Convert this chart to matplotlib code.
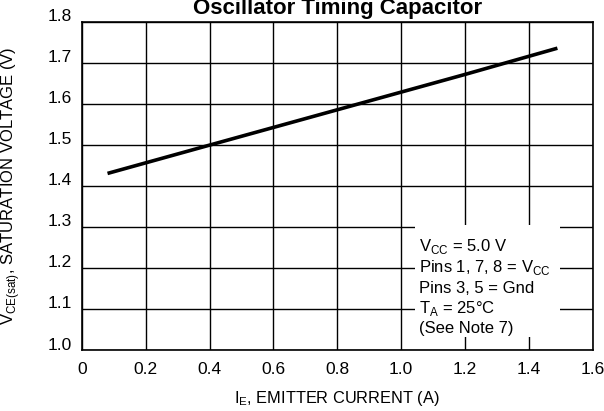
import matplotlib
matplotlib.use("Agg")
import matplotlib.pyplot as plt
import matplotlib.patches as patches
import matplotlib.transforms as mtransforms

plt.rcParams['font.family'] = ['Liberation Sans', 'DejaVu Sans']
plt.rcParams['mathtext.fontset'] = 'custom'
plt.rcParams['mathtext.rm'] = 'Liberation Sans'

# curve
current = [0.08, 0.4, 0.8, 1.0, 1.2, 1.49]
vsat = [1.43, 1.499, 1.585, 1.628, 1.671, 1.735]

x_ticks = [0, 0.2, 0.4, 0.6, 0.8, 1.0, 1.2, 1.4, 1.6]
x_labels = ['0', '0.2', '0.4', '0.6', '0.8', '1.0', '1.2', '1.4', '1.6']
y_ticks = [1.0, 1.1, 1.2, 1.3, 1.4, 1.5, 1.6, 1.7, 1.8]
y_labels = ['1.0', '1.1', '1.2', '1.3', '1.4', '1.5', '1.6', '1.7', '1.8']

note_lines = [
    r'V$_{\mathregular{CC}}$ = 5.0 V',
    r'Pins 1, 7, 8 = V$_{\mathregular{CC}}$',
    'Pins 3, 5 = Gnd',
    r'T$_{\mathregular{A}}$ = 25°C',
    '(See Note 7)',
]
note_y = [1.241, 1.190, 1.139, 1.090, 1.041]

W, H = 604, 411
fig = plt.figure(figsize=(W / 100, H / 100), dpi=100)
fig.subplots_adjust(left=82 / W, right=592.5 / W, top=1 - 21.5 / H, bottom=1 - 350 / H)
ax = fig.add_subplot(111)

ax.set_xlim(0, 1.6)
ax.set_ylim(1.0, 1.8)
ax.set_xticks(x_ticks)
ax.set_xticklabels(x_labels)
ax.set_yticks(y_ticks)
ax.set_yticklabels(y_labels)
ax.tick_params(length=0, labelsize=12.5, colors='black')
ax.tick_params(axis='x', pad=8.5)
ax.tick_params(axis='y', pad=7.5)

# y tick labels sit a little above their grid lines
shift = mtransforms.ScaledTranslation(0, 6.5 / 100, fig.dpi_scale_trans)
for lbl in ax.get_yticklabels():
    lbl.set_transform(lbl.get_transform() + shift)

ax.set_axisbelow(True)
ax.grid(True, color='black', linewidth=1.0)
for sp in ax.spines.values():
    sp.set_linewidth(1.2)
    sp.set_color('black')

ax.plot(current, vsat, color='black', linewidth=2.6, solid_capstyle='butt', zorder=3)

# white panel for the conditions note
ax.add_patch(patches.Rectangle((1.044, 1.032), 0.454, 0.272, facecolor='white',
                               edgecolor='none', zorder=1.5))
for txt, yy in zip(note_lines, note_y):
    ax.text(1.056, yy, txt, fontsize=12, va='baseline', ha='left', zorder=4)

ax.set_xlabel(r'I$_{\mathregular{E}}$, EMITTER CURRENT (A)', fontsize=11.8)
ax.set_ylabel(r'V$_{\mathregular{CE(sat)}}$, SATURATION VOLTAGE (V)', fontsize=12)
ax.xaxis.set_label_coords(0.5, -0.118)
ax.yaxis.set_label_coords(-0.117, 0.5)

fig.text(338 / W, 1 - 14 / H, 'Oscillator Timing Capacitor', fontsize=16,
         fontweight='bold', ha='center', va='baseline')

fig.savefig('out.png', dpi=100)
